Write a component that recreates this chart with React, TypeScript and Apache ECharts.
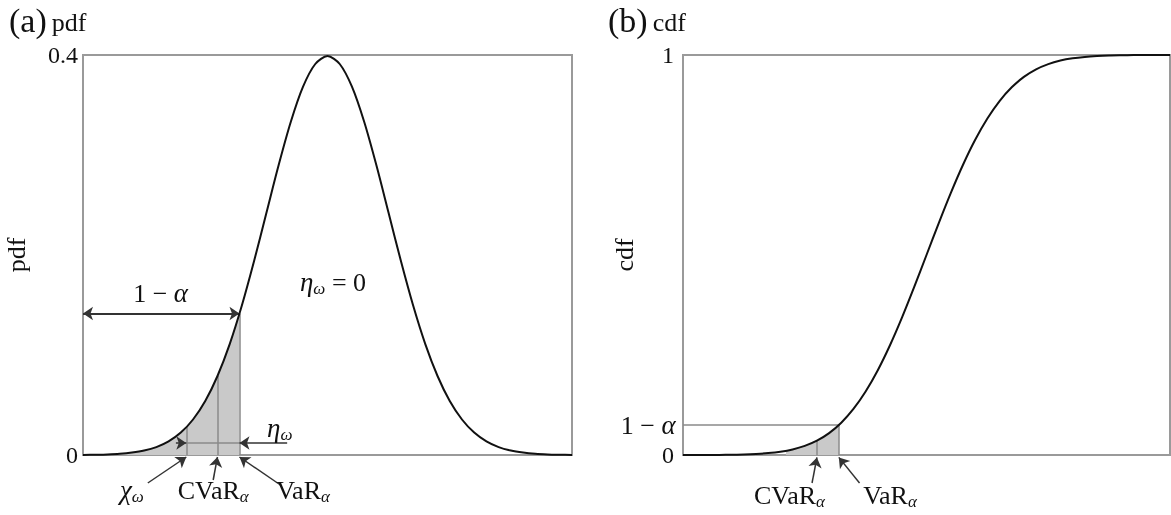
import React, { useEffect, useRef } from "react";
import * as echarts from "echarts";

// Standardised variable on the horizontal axis
const zGrid = [
  -4, -3.8, -3.6, -3.4, -3.2, -3, -2.8, -2.6, -2.4, -2.2, -2, -1.8, -1.6, -1.4, -1.2, -1, -0.8, -0.6, -0.4, -0.2,
  0, 0.2, 0.4, 0.6, 0.8, 1, 1.2, 1.4, 1.6, 1.8, 2, 2.2, 2.4, 2.6, 2.8, 3, 3.2, 3.4, 3.6, 3.8, 4,
];
// pdf values
const pdfValues = [
  0.0001, 0.0003, 0.0006, 0.0012, 0.0024, 0.0044, 0.0079, 0.0136, 0.0224, 0.0355, 0.054, 0.079, 0.1109, 0.1497,
  0.1942, 0.242, 0.2897, 0.3332, 0.3683, 0.391, 0.3989, 0.391, 0.3683, 0.3332, 0.2897, 0.242, 0.1942, 0.1497,
  0.1109, 0.079, 0.054, 0.0355, 0.0224, 0.0136, 0.0079, 0.0044, 0.0024, 0.0012, 0.0006, 0.0003, 0.0001,
];
// cdf values
const cdfValues = [
  0.0, 0.0001, 0.0002, 0.0003, 0.0007, 0.0013, 0.0026, 0.0047, 0.0082, 0.0139, 0.0228, 0.0359, 0.0548, 0.0808,
  0.1151, 0.1587, 0.2119, 0.2743, 0.3446, 0.4207, 0.5, 0.5793, 0.6554, 0.7257, 0.7881, 0.8413, 0.8849, 0.9192,
  0.9452, 0.9641, 0.9772, 0.9861, 0.9918, 0.9953, 0.9974, 0.9987, 0.9993, 0.9997, 0.9998, 0.9999, 1.0,
];

// Key positions
const VAR_Z = -1.44;
const CVAR_Z = -1.8;
const CHI_Z = -2.31;
const pdfAtVar = 0.1415;
const pdfAtCvar = 0.079;
const pdfAtChi = 0.0277;
const cdfAtVar = 0.075;
const cdfAtCvar = 0.036;
const cdfAtChi = 0.0104;
const etaLevel = 0.012;

// Tick labels
const pdfTicks = ["0", "0.4"];
const cdfTicks = ["0", "1"];

const SERIF = "'Liberation Serif', 'DejaVu Serif', serif";
const INK = "#111";

const richText = {
  m: { fontSize: 26, fontFamily: SERIF, color: INK, fontWeight: "normal" },
  i: { fontSize: 27, fontFamily: SERIF, fontStyle: "italic", color: INK, fontWeight: "normal" },
  s: { fontSize: 17, fontFamily: SERIF, fontStyle: "italic", color: INK, fontWeight: "normal", padding: [13, 0, 0, 0] },
};

function labelSeries(axis: number, items: { x: number; y: number; text: string; align?: string }[]) {
  return {
    type: "scatter",
    xAxisIndex: axis,
    yAxisIndex: axis,
    symbolSize: 0,
    silent: true,
    clip: false,
    z: 10,
    itemStyle: { opacity: 1, color: INK },
    data: items.map((it) => ({
      value: [it.x, it.y],
      label: {
        show: true,
        position: "inside",
        align: it.align || "center",
        verticalAlign: "middle",
        color: INK,
        opacity: 1,
        textBorderWidth: 0,
        formatter: it.text,
        rich: richText,
      },
    })),
  };
}

function linesSeries(axis: number, segs: number[][][], arrows: any, color: string, width = 1.5) {
  return {
    type: "lines",
    coordinateSystem: "cartesian2d",
    xAxisIndex: axis,
    yAxisIndex: axis,
    clip: false,
    silent: true,
    z: 5,
    symbol: arrows,
    symbolSize: 10,
    lineStyle: { color, width, opacity: 1, curveness: 0 },
    data: segs.map((c) => ({ coords: c })),
  };
}

export default function App() {
  const ref = useRef<HTMLDivElement>(null);
  useEffect(() => {
    if (!ref.current) return;
    const chart = echarts.init(ref.current, null, { renderer: "svg" });

    const pdfPts = zGrid.map((z, i) => [z, pdfValues[i]]);
    const cdfPts = zGrid.map((z, i) => [z, cdfValues[i]]);
    const pdfShade = [...pdfPts.filter((p) => p[0] < VAR_Z), [VAR_Z, pdfAtVar]];
    const cdfShade = [
      [CHI_Z, cdfAtChi],
      ...cdfPts.filter((p) => p[0] > CHI_Z && p[0] < VAR_Z),
      [VAR_Z, cdfAtVar],
    ];

    const axisLabelStyle = { fontSize: 24, fontFamily: SERIF, color: INK, margin: 5 };
    const titleRich = {
      a: { fontSize: 34, fontFamily: SERIF, color: INK, fontWeight: "normal" },
      b: { fontSize: 26, fontFamily: SERIF, color: INK, fontWeight: "normal", padding: [4, 0, 0, 0] },
    };

    chart.setOption({
      animation: false,
      title: [
        { left: 4, top: -2, text: "{a|(a)} {b|pdf}", textStyle: { fontWeight: "normal", rich: titleRich } },
        { left: 603, top: -2, text: "{a|(b)} {b|cdf}", textStyle: { fontWeight: "normal", rich: titleRich } },
      ],
      grid: [
        { left: 83, top: 55, width: 489, height: 400, show: true, borderColor: "#9a9a9a", borderWidth: 2, backgroundColor: "transparent" },
        { left: 683, top: 55, width: 487, height: 400, show: true, borderColor: "#9a9a9a", borderWidth: 2, backgroundColor: "transparent" },
      ],
      xAxis: [0, 1].map((g) => ({
        type: "value",
        gridIndex: g,
        min: -4,
        max: 4,
        axisLine: { show: false },
        axisTick: { show: false },
        axisLabel: { show: false },
        splitLine: { show: false },
      })),
      yAxis: [
        {
          type: "value",
          gridIndex: 0,
          min: 0,
          max: 0.4,
          interval: 0.4,
          name: "pdf",
          nameLocation: "middle",
          nameGap: 54,
          nameTextStyle: { fontSize: 26, fontFamily: SERIF, color: INK },
          axisLine: { show: false },
          axisTick: { show: false },
          splitLine: { show: false },
          axisLabel: { ...axisLabelStyle, formatter: (v: number) => (v === 0 ? pdfTicks[0] : pdfTicks[1]) },
        },
        {
          type: "value",
          gridIndex: 1,
          min: 0,
          max: 1,
          interval: 1,
          name: "cdf",
          nameLocation: "middle",
          nameGap: 46,
          nameTextStyle: { fontSize: 26, fontFamily: SERIF, color: INK },
          axisLine: { show: false },
          axisTick: { show: false },
          splitLine: { show: false },
          axisLabel: { ...axisLabelStyle, margin: 9, formatter: (v: number) => (v === 0 ? cdfTicks[0] : cdfTicks[1]) },
        },
      ],
      series: [
        // ---- panel (a)
        {
          type: "line",
          xAxisIndex: 0,
          yAxisIndex: 0,
          data: pdfShade,
          smooth: 0.3,
          showSymbol: false,
          silent: true,
          lineStyle: { width: 0 },
          areaStyle: { color: "#c9c9c9", opacity: 1 },
          z: 1,
        },
        linesSeries(
          0,
          [
            [[CHI_Z, 0], [CHI_Z, pdfAtChi]],
            [[CVAR_Z, 0], [CVAR_Z, pdfAtCvar]],
            [[VAR_Z, 0], [VAR_Z, pdfAtVar]],
            [[CHI_Z, etaLevel], [VAR_Z, etaLevel]],
          ],
          ["none", "none"],
          "#8a8a8a"
        ),
        {
          type: "line",
          xAxisIndex: 0,
          yAxisIndex: 0,
          data: pdfPts,
          smooth: 0.3,
          showSymbol: false,
          silent: true,
          lineStyle: { color: INK, width: 2 },
          z: 6,
        },
        linesSeries(0, [[[-4, pdfAtVar], [VAR_Z, pdfAtVar]]], ["arrow", "arrow"], "#333", 2),
        linesSeries(
          0,
          [
            [[CHI_Z - 0.17, etaLevel], [CHI_Z, etaLevel]],
            [[-0.66, etaLevel], [VAR_Z, etaLevel]],
            [[-2.94, -0.028], [CHI_Z, -0.002]],
            [[-1.87, -0.025], [CVAR_Z, -0.002]],
            [[-0.77, -0.03], [VAR_Z, -0.002]],
          ],
          ["none", "arrow"],
          "#333"
        ),
        labelSeries(0, [
          { x: -2.73, y: 0.162, text: "{m|1 − }{i|α}" },
          { x: 0.09, y: 0.173, text: "{i|η}{s|ω}{m| = 0}" },
          { x: -0.78, y: 0.027, text: "{i|η}{s|ω}" },
          { x: -3.2, y: -0.035, text: "{i|χ}{s|ω}" },
          { x: -1.87, y: -0.035, text: "{m|CVaR}{s|α}" },
          { x: -0.4, y: -0.035, text: "{m|VaR}{s|α}" },
        ]),
        // ---- panel (b)
        {
          type: "line",
          xAxisIndex: 1,
          yAxisIndex: 1,
          data: cdfShade,
          smooth: 0.3,
          showSymbol: false,
          silent: true,
          lineStyle: { width: 0 },
          areaStyle: { color: "#c9c9c9", opacity: 1 },
          z: 1,
        },
        linesSeries(
          1,
          [
            [[CVAR_Z, 0], [CVAR_Z, cdfAtCvar]],
            [[VAR_Z, 0], [VAR_Z, cdfAtVar]],
            [[-4, cdfAtVar], [VAR_Z, cdfAtVar]],
          ],
          ["none", "none"],
          "#8a8a8a"
        ),
        {
          type: "line",
          xAxisIndex: 1,
          yAxisIndex: 1,
          data: cdfPts,
          smooth: 0.3,
          showSymbol: false,
          silent: true,
          lineStyle: { color: INK, width: 2 },
          z: 6,
        },
        linesSeries(
          1,
          [
            [[-1.88, -0.07], [CVAR_Z, -0.006]],
            [[-1.1, -0.07], [VAR_Z, -0.006]],
          ],
          ["none", "arrow"],
          "#333"
        ),
        labelSeries(1, [
          { x: -4.12, y: cdfAtVar, text: "{m|1 − }{i|α}", align: "right" },
          { x: -2.25, y: -0.1, text: "{m|CVaR}{s|α}" },
          { x: -0.6, y: -0.1, text: "{m|VaR}{s|α}" },
        ]),
      ],
    });
    return () => chart.dispose();
  }, []);
  return <div ref={ref} style={{ position: "fixed", left: 0, top: 0, width: 1171, height: 515 }} />;
}
